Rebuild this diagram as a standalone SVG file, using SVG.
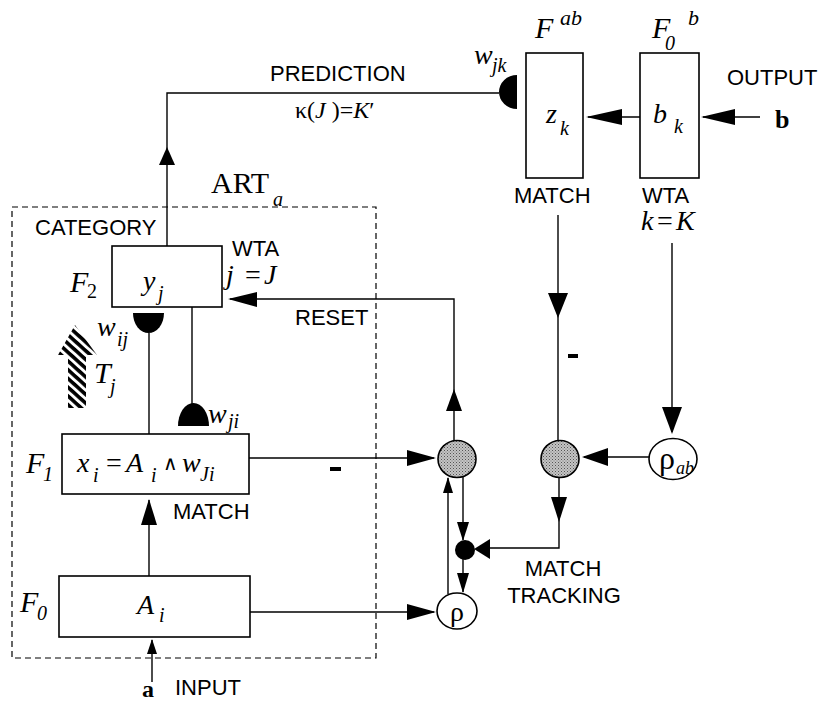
<svg xmlns="http://www.w3.org/2000/svg" width="820" height="703" viewBox="0 0 820 703">
<style>
.lbl{font-family:"Liberation Sans",Arial,sans-serif;font-size:22px;fill:#000}
.m{font-family:"Liberation Serif","Times New Roman",serif;font-style:italic;fill:#000}
.r{font-family:"Liberation Serif","Times New Roman",serif;fill:#000}
.box{fill:#fff;stroke:#000;stroke-width:1.6}
.ln{fill:none;stroke:#000;stroke-width:1.4}
.ah{fill:#000;stroke:none}
.gray{fill:url(#stip);stroke:#000;stroke-width:1.6}
.circ{fill:#fff;stroke:#000;stroke-width:1.6}
</style>
<defs>
<pattern id="stip" width="3" height="3" patternUnits="userSpaceOnUse">
<rect width="3" height="3" fill="#c4c4c4"/>
<rect width="1" height="1" fill="#555"/>
<rect x="1.5" y="1.5" width="1" height="1" fill="#777"/>
</pattern>
<pattern id="hatch" width="6.5" height="6.5" patternUnits="userSpaceOnUse" patternTransform="rotate(42)">
<rect width="6.5" height="3.6" fill="#000"/>
</pattern>
</defs>
<rect width="820" height="703" fill="#fff"/>

<g id="art-a-frame">
<rect x="12" y="207" width="364" height="451" fill="none" stroke="#000" stroke-width="1.2" stroke-dasharray="6,4"/>
<text class="r" x="211" y="193" font-size="30">ART</text>
<text class="m" x="273" y="206" font-size="20">a</text>
</g>

<g id="connectors">
<polyline class="ln" points="167,246 167,93 499,93"/>
<polygon class="ah" points="167,147 159,165 175,165"/>
<polyline class="ln" points="230,299 454,299 454,440"/>
<polygon class="ah" points="228,299 257,292 257,307"/>
<polygon class="ah" points="454,389 446,411 462,411"/>
<line class="ln" x1="149" y1="333" x2="149" y2="434"/>
<line class="ln" x1="192" y1="307" x2="192" y2="404"/>
<line class="ln" x1="149" y1="576" x2="149" y2="500"/>
<polygon class="ah" points="149,499 141,525 157,525"/>
<line class="ln" x1="152" y1="682" x2="152" y2="640"/>
<polygon class="ah" points="152,639 147,654 157,654"/>
<line class="ln" x1="249" y1="458" x2="434" y2="458"/>
<polygon class="ah" points="436,458 407,450 407,466"/>
<line class="ln" x1="250" y1="612" x2="434" y2="612"/>
<polygon class="ah" points="436,612 407,604 407,620"/>
<line class="ln" x1="448" y1="594" x2="448" y2="478"/>
<polygon class="ah" points="448,477 443,493 453,493"/>
<line class="ln" x1="463" y1="477" x2="463" y2="540"/>
<polygon class="ah" points="463,541 457,522 469,522"/>
<line class="ln" x1="463" y1="558" x2="463" y2="592"/>
<polygon class="ah" points="463,593 457,573 469,573"/>
<line class="ln" x1="558" y1="215" x2="558" y2="440"/>
<polygon class="ah" points="558,318 548,293 568,293"/>
<polyline class="ln" points="559,478 559,548 490,548"/>
<polygon class="ah" points="559,522 551,497 567,497"/>
<polygon class="ah" points="474,549 490,539 490,559"/>
<line class="ln" x1="672" y1="243" x2="672" y2="432"/>
<polygon class="ah" points="672,434 662,407 682,407"/>
<line class="ln" x1="649" y1="457" x2="584" y2="457"/>
<polygon class="ah" points="582,457 608,448 608,466"/>
<line class="ln" x1="640" y1="117" x2="588" y2="117"/>
<polygon class="ah" points="586,117 622,109 622,125"/>
<line class="ln" x1="760" y1="117" x2="703" y2="117"/>
<polygon class="ah" points="701,117 735,109 735,125"/>
<rect x="330" y="467" width="11" height="4" fill="#000"/>
<rect x="568" y="354" width="10" height="4" fill="#000"/>
</g>

<g id="F2">
<rect class="box" x="112" y="246" width="110" height="61"/>
<text class="m" x="143" y="290" font-size="28">y</text>
<text class="m" x="158" y="300" font-size="20">j</text>
<text class="m" x="70" y="292" font-size="30">F</text>
<text class="r" x="87" y="298" font-size="20">2</text>
<text class="lbl" x="232" y="256">WTA</text>
<text class="m" x="226" y="284" font-size="28">j</text>
<text class="r" x="245" y="284" font-size="28">=</text>
<text class="m" x="264" y="284" font-size="28">J</text>
<text class="lbl" x="35" y="235">CATEGORY</text>
<text class="lbl" x="295" y="325">RESET</text>
</g>

<g id="w-ij">
<path d="M133,313 A15.5,20 0 0 0 164,313 Z" fill="#000"/>
<text class="m" x="97" y="336" font-size="28">w</text>
<text class="m" x="117" y="346" font-size="20">ij</text>
</g>

<g id="w-ji">
<path d="M178,426 A15.5,23 0 0 1 209,426 Z" fill="#000"/>
<text class="m" x="208" y="423" font-size="28">w</text>
<text class="m" x="228" y="428" font-size="20">ji</text>
</g>

<g id="T-j">
<path d="M75,325 L97,355 L86,355 L86,408 L68,408 L68,355 L58,355 Z" fill="url(#hatch)"/>
<text class="m" x="94" y="383" font-size="30">T</text>
<text class="m" x="110" y="393" font-size="20">j</text>
</g>

<g id="F1">
<rect class="box" x="62" y="434" width="187" height="60"/>
<text class="m" x="26" y="473" font-size="30">F</text>
<text class="m" x="43" y="481" font-size="20">1</text>
<text class="m" x="77" y="472" font-size="28">x</text>
<text class="m" x="93" y="482" font-size="20">i</text>
<text class="r" x="106" y="472" font-size="28">=</text>
<text class="m" x="126" y="472" font-size="28">A</text>
<text class="m" x="151" y="482" font-size="20">i</text>
<text x="163" y="470" font-size="20" font-family="'DejaVu Sans',sans-serif">∧</text>
<text class="m" x="182" y="472" font-size="28">w</text>
<text class="m" x="200" y="481" font-size="20">Ji</text>
<text class="lbl" x="173" y="519">MATCH</text>
</g>

<g id="F0">
<rect class="box" x="59" y="576" width="191" height="61"/>
<text class="m" x="20" y="612" font-size="30">F</text>
<text class="m" x="37" y="620" font-size="20">0</text>
<text class="m" x="137" y="614" font-size="28">A</text>
<text class="m" x="159" y="622" font-size="20">i</text>
<text class="r" x="142" y="697" font-size="24" font-weight="bold">a</text>
<text class="lbl" x="175" y="695">INPUT</text>
</g>

<g id="circle1"><ellipse class="gray" cx="457" cy="459" rx="19" ry="18.5"/></g>
<g id="circle2"><ellipse class="gray" cx="560" cy="459" rx="19" ry="18.5"/></g>
<g id="dot"><circle cx="465" cy="550" r="10" fill="#000"/></g>

<g id="rho">
<ellipse class="circ" cx="457" cy="611" rx="20" ry="18"/>
<text class="r" x="457" y="621" font-size="28" text-anchor="middle">ρ</text>
</g>

<g id="rho-ab">
<ellipse class="circ" cx="673" cy="459" rx="24" ry="20.5"/>
<text class="r" x="667" y="469" font-size="32" text-anchor="middle">ρ</text>
<text class="m" x="685" y="474" font-size="18" text-anchor="middle">ab</text>
</g>

<g id="match-tracking">
<text class="lbl" x="563" y="576" text-anchor="middle">MATCH</text>
<text class="lbl" x="564" y="603" text-anchor="middle">TRACKING</text>
</g>

<g id="prediction">
<text class="lbl" x="270" y="81">PREDICTION</text>
<text class="r" x="295" y="118" font-size="24">κ(<tspan class="m">J</tspan> )=<tspan class="m">K</tspan>′</text>
</g>

<g id="F-ab">
<rect class="box" x="526" y="53" width="57" height="125"/>
<path d="M517,75 A18,17 0 0 0 517,109 Z" fill="#000"/>
<text class="m" x="474" y="64" font-size="28">w</text>
<text class="m" x="492" y="72" font-size="20">jk</text>
<text class="m" x="535" y="38" font-size="30">F</text>
<text class="m" x="560" y="25" font-size="22">ab</text>
<text class="m" x="546" y="123" font-size="28">z</text>
<text class="m" x="560" y="135" font-size="20">k</text>
<text class="lbl" x="514" y="203">MATCH</text>
</g>

<g id="F0-b">
<rect class="box" x="640" y="53" width="59" height="125"/>
<text class="m" x="652" y="38" font-size="30">F</text>
<text class="m" x="665" y="50" font-size="20">0</text>
<text class="m" x="688" y="25" font-size="22">b</text>
<text class="m" x="653" y="123" font-size="28">b</text>
<text class="m" x="674" y="133" font-size="20">k</text>
<text class="lbl" x="642" y="203">WTA</text>
<text class="m" x="641" y="230" font-size="28">k</text>
<text class="r" x="657" y="230" font-size="28">=</text>
<text class="m" x="676" y="230" font-size="28">K</text>
</g>

<g id="output">
<text class="lbl" x="727" y="85">OUTPUT</text>
<text class="r" x="775" y="128" font-size="26" font-weight="bold">b</text>
</g>
</svg>
